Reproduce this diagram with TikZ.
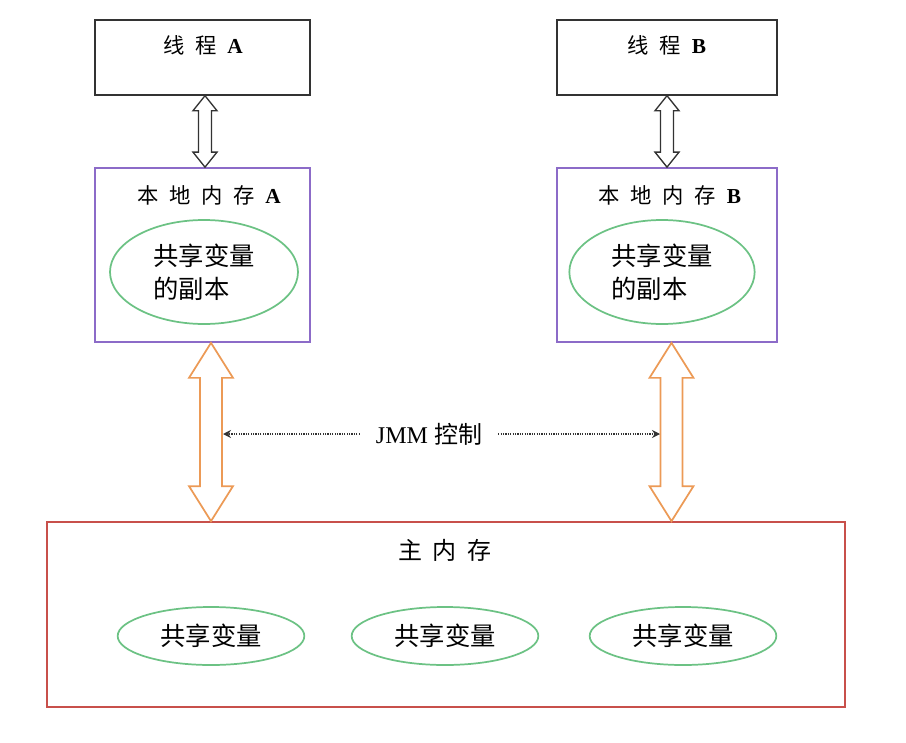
\documentclass[tikz,border=0pt]{standalone}
\usepackage{fontspec}
\setmainfont{Liberation Serif}
\newfontfamily\cjk{Noto Sans CJK SC}
\usetikzlibrary{arrows.meta,calc,shapes.geometric}
\definecolor{thread}{HTML}{333333}
\definecolor{local}{HTML}{8C6BC8}
\definecolor{shared}{HTML}{6CC284}
\definecolor{copyarr}{HTML}{EC9A56}
\definecolor{mainmem}{HTML}{C8504B}
\definecolor{ctl}{HTML}{333333}
\newcommand{\gp}{\hspace{8pt}}
% hollow double arrow: style, top, bottom, head half width, shaft half width, head length
\newcommand{\dblarrow}[6]{%
  \draw[#1] (#2) -- ($(#2)+(#4,#6)$) -- ($(#2)+(#5,#6)$) -- ($(#3)+(#5,-#6)$)
    -- ($(#3)+(#4,-#6)$) -- (#3) -- ($(#3)+(-#4,-#6)$) -- ($(#3)+(-#5,-#6)$)
    -- ($(#2)+(-#5,#6)$) -- ($(#2)+(-#4,#6)$) -- cycle;}

\begin{document}
\begin{tikzpicture}[x=0.75pt,y=-0.75pt,
  box/.style={draw,line width=1.3pt,inner sep=0pt},
  title/.style={font=\fontsize{16}{19}\selectfont,inner sep=1pt},
  var/.style={ellipse,draw=shared,line width=1.3pt,inner sep=0pt,font=\cjk\fontsize{19}{25}\selectfont}]
  \useasboundingbox (0,0) rectangle (906,742);

  % threads
  \node[box,draw=thread,minimum width=161pt,minimum height=56pt] (threadA) at (202.5,57.5) {};
  \node[box,draw=thread,minimum width=165pt,minimum height=56pt] (threadB) at (667,57.5) {};
  \node[title] (tA) at (203,45) {{\cjk 线\gp 程}\gp\textbf{A}};
  \node[title] (tB) at (667,45) {{\cjk 线\gp 程}\gp\textbf{B}};

  % local memory
  \node[box,draw=local,minimum width=161pt,minimum height=130.5pt] (localA) at (202.5,255) {};
  \node[box,draw=local,minimum width=165pt,minimum height=130.5pt] (localB) at (667,255) {};
  \node[title] (lA) at (209,195) {{\cjk 本\gp 地\gp 内\gp 存}\gp\textbf{A}};
  \node[title] (lB) at (670,195) {{\cjk 本\gp 地\gp 内\gp 存}\gp\textbf{B}};
  \node[var,minimum width=141pt,minimum height=78pt,align=left] (copyA) at (204,272) {共享变量\\的副本};
  \node[var,minimum width=139pt,minimum height=78pt,align=left] (copyB) at (662,272) {共享变量\\的副本};

  % main memory
  \node[box,draw=mainmem,minimum width=598.5pt,minimum height=138.75pt] (mem) at (446,614.5) {};
  \node[title,font=\cjk\fontsize{18}{21}\selectfont] (mt) at (445,550) {主\gp 内\gp 存};
  \node[var,minimum width=140pt,minimum height=43.5pt] (var1) at (211,636) {共享变量};
  \node[var,minimum width=140pt,minimum height=43.5pt] (var2) at (445,636) {共享变量};
  \node[var,minimum width=140pt,minimum height=43.5pt] (var3) at (683,636) {共享变量};

  % arrows
  \coordinate (a1) at ($(threadA.south)+(2.5,0)$);
  \coordinate (b1) at ($(threadB.south)+(0,0)$);
  \dblarrow{thread,line width=1pt,fill=white}{a1}{a1 |- localA.north}{12}{6.5}{15}
  \dblarrow{thread,line width=1pt,fill=white}{b1}{b1 |- localB.north}{12}{6.5}{15}
  \coordinate (a2) at ($(localA.south)+(8.5,0)$);
  \coordinate (b2) at ($(localB.south)+(4.5,0)$);
  \dblarrow{copyarr,line width=1.3pt,fill=white}{a2}{a2 |- mem.north}{22}{11}{35}
  \dblarrow{copyarr,line width=1.3pt,fill=white}{b2}{b2 |- mem.north}{22}{11}{35}

  % JMM control
  \node[font=\fontsize{18}{21}\selectfont,inner xsep=12pt] (jmm) at (429,434) {JMM {\cjk 控制}};
  \coordinate (ctlA) at (223,434);
  \coordinate (ctlB) at (660,434);
  \draw[ctl,line width=1.8pt,dash pattern=on 0.9pt off 0.9pt,-{Stealth[length=6pt,width=6pt]}] (jmm.west) -- (ctlA);
  \draw[ctl,line width=1.8pt,dash pattern=on 0.9pt off 0.9pt,-{Stealth[length=6pt,width=6pt]}] (jmm.east) -- (ctlB);
\end{tikzpicture}
\end{document}
